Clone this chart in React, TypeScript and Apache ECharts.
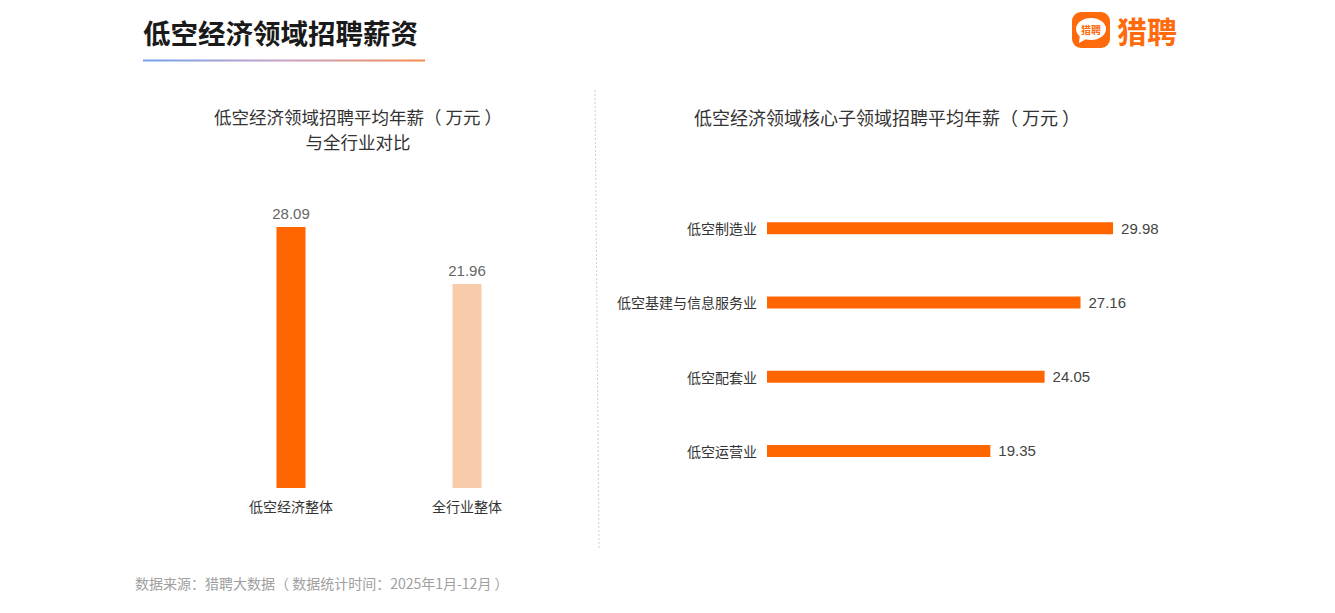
import React, { useEffect, useRef } from "react";
import * as echarts from "echarts";

const leftCategories = ["低空经济整体", "全行业整体"];
const leftValues = [28.09, 21.96];
const rightCategories = ["低空制造业", "低空基建与信息服务业", "低空配套业", "低空运营业"];
const rightValues = [29.98, 27.16, 24.05, 19.35];

const leftColors = ["#FF6600", "#F8CBAA"];
const CJK = "'Noto Sans CJK SC', 'Microsoft YaHei', sans-serif";
const NUM = "'Liberation Sans', Arial, 'Noto Sans CJK SC', sans-serif";

export default function App() {
  const ref = useRef<HTMLDivElement>(null);
  useEffect(() => {
    if (!ref.current) return;
    const chart = echarts.init(ref.current, null, { renderer: "svg" });
    chart.setOption({
      animation: false,
      backgroundColor: "#ffffff",
      grid: [
        { left: 203, width: 352, top: 209.3, height: 278.7 },
        { left: 767, width: 404, top: 191, height: 297 },
      ],
      xAxis: [
        {
          type: "category",
          gridIndex: 0,
          data: leftCategories,
          axisLine: { show: false },
          axisTick: { show: false },
          axisLabel: { color: "#333", fontSize: 14, fontFamily: CJK, margin: 11 },
        },
        {
          type: "value",
          gridIndex: 1,
          min: 0,
          max: 35,
          show: false,
        },
      ],
      yAxis: [
        { type: "value", gridIndex: 0, min: 0, max: 30, show: false },
        {
          type: "category",
          gridIndex: 1,
          inverse: true,
          data: rightCategories,
          axisLine: { show: false },
          axisTick: { show: false },
          axisLabel: { color: "#333", fontSize: 14, fontFamily: CJK, margin: 10 },
        },
      ],
      series: [
        {
          type: "bar",
          xAxisIndex: 0,
          yAxisIndex: 0,
          barWidth: 29,
          data: leftValues,
          itemStyle: { color: (p: any) => leftColors[p.dataIndex] },
          label: {
            show: true,
            position: "top",
            distance: 6,
            color: "#666",
            fontSize: 15,
            fontFamily: NUM,
            formatter: (p: any) => p.value.toFixed(2),
          },
        },
        {
          type: "bar",
          xAxisIndex: 1,
          yAxisIndex: 1,
          barWidth: 12,
          data: rightValues,
          itemStyle: { color: "#FF6600" },
          label: {
            show: true,
            position: "right",
            distance: 8,
            color: "#444",
            fontSize: 15,
            fontFamily: NUM,
            formatter: (p: any) => p.value.toFixed(2),
          },
        },
      ],
      graphic: [
        {
          type: "text",
          left: 143,
          top: 18,
          style: { text: "低空经济领域招聘薪资", font: `bold 27.5px ${CJK}`, fill: "#1a1a1a" },
        },
        {
          type: "rect",
          shape: { x: 143, y: 59.5, width: 282, height: 2 },
          style: {
            fill: new echarts.graphic.LinearGradient(0, 0, 1, 0, [
              { offset: 0, color: "#6FA3EA" },
              { offset: 0.5, color: "#C9A2C6" },
              { offset: 1, color: "#F38A4C" },
            ]),
          },
        },
        {
          type: "rect",
          shape: { x: 1072, y: 12, width: 38, height: 36, r: 9 },
          style: { fill: "#FF6A0C" },
        },
        {
          type: "ellipse",
          shape: { cx: 1091, cy: 29, rx: 15, ry: 11 },
          style: { fill: "#ffffff" },
        },
        {
          type: "polygon",
          shape: { points: [[1080, 34], [1079, 43], [1088, 38]] },
          style: { fill: "#ffffff" },
        },
        {
          type: "text",
          x: 1091,
          y: 29,
          style: {
            text: "猎聘",
            font: `bold 10px ${CJK}`,
            fill: "#FF6A0C",
            align: "center",
            verticalAlign: "middle",
          },
        },
        {
          type: "text",
          x: 1117,
          y: 30,
          style: {
            text: "猎聘",
            font: `bold 30px ${CJK}`,
            fill: "#FF6A0C",
            verticalAlign: "middle",
          },
        },
        {
          type: "text",
          x: 358,
          y: 128.5,
          style: {
            text: "低空经济领域招聘平均年薪（ 万元 ）\n与全行业对比",
            font: `17.5px ${CJK}`,
            lineHeight: 25,
            fill: "#333",
            align: "center",
            verticalAlign: "middle",
          },
        },
        {
          type: "text",
          x: 887,
          y: 117,
          style: {
            text: "低空经济领域核心子领域招聘平均年薪（ 万元 ）",
            font: `18px ${CJK}`,
            fill: "#333",
            align: "center",
            verticalAlign: "middle",
          },
        },
        {
          type: "line",
          shape: { x1: 595, y1: 90, x2: 599, y2: 548 },
          style: { stroke: "#cfcfcf", lineWidth: 1, lineDash: [2, 2] },
        },
        {
          type: "text",
          x: 135,
          y: 583,
          style: {
            text: "数据来源：猎聘大数据（ 数据统计时间：2025年1月-12月 ）",
            font: `14px ${CJK}`,
            fill: "#a0a0a0",
            verticalAlign: "middle",
          },
        },
      ],
    });
    return () => chart.dispose();
  }, []);
  return (
    <div
      ref={ref}
      style={{ position: "fixed", left: 0, top: 0, width: 1335, height: 613 }}
    />
  );
}
